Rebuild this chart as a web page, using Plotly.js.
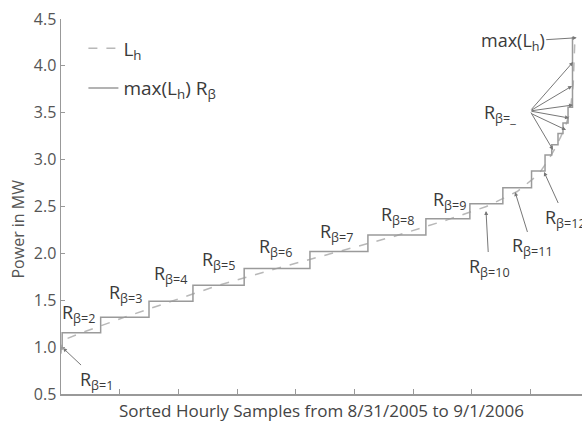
<!DOCTYPE html>
<html>
<head>
<meta charset="utf-8">
<script src="https://cdn.plot.ly/plotly-3.0.1.min.js"></script>
<style>html,body{margin:0;padding:0;background:#fff;}#chart{width:582px;height:424px;}</style>
</head>
<body>
<div id="chart"></div>
<script>
// Sorted load duration curve L_h (hour index, MW)
var loadHours = [0, 15, 60, 338, 1088, 1875, 2686, 3683, 4737, 5725, 6594, 7250, 7776, 8135, 8310, 8420, 8515, 8600, 8680, 8730, 8760];
var loadMW    = [0.93, 1.02, 1.08, 1.15, 1.32, 1.49, 1.66, 1.84, 2.02, 2.19, 2.36, 2.50, 2.66, 2.84, 3.00, 3.12, 3.24, 3.36, 3.52, 3.80, 4.30];

// Step function max(L_h) R_beta: start hour of each step and its level (MW)
var stepStartHours = [0, 20, 676, 1500, 2249, 3122, 4243, 5231, 6219, 6969, 7531, 8020, 8250, 8364, 8471, 8556, 8642, 8718];
var stepLevelsMW   = [0.98, 1.154, 1.318, 1.49, 1.66, 1.84, 2.02, 2.196, 2.37, 2.53, 2.70, 2.88, 3.05, 3.16, 3.28, 3.39, 3.56, 4.30];
var lastHour = 8760;

var yTicks = [0.5, 1.0, 1.5, 2.0, 2.5, 3.0, 3.5, 4.0, 4.5];
var yTickText = ['0.5', '1.0', '1.5', '2.0', '2.5', '3.0', '3.5', '4.0', '4.5'];

var stepX = stepStartHours.concat([lastHour]);
var stepY = stepLevelsMW.concat([stepLevelsMW[stepLevelsMW.length - 1]]);

var txtColor = '#3a3a3a';
var fnt = 'Open Sans, sans-serif';

var traces = [
  {x: loadHours, y: loadMW, mode: 'lines', name: 'L<sub>h</sub>', legendgroup: 'a',
   line: {color: '#b8b8b8', width: 1.5, dash: 'dash'}},
  {x: stepX, y: stepY, mode: 'lines', name: 'max(L<sub>h</sub>) R<sub>β</sub>', legendgroup: 'b',
   line: {color: '#9a9a9a', width: 1.5, shape: 'hv'}}
];

function lab(text, x, y) {
  return {text: text, x: x, y: y, xref: 'x', yref: 'y', showarrow: false,
          font: {family: fnt, size: 18, color: txtColor}};
}
function arr(text, x, y, ax, ay) {
  return {text: text, x: x, y: y, xref: 'x', yref: 'y', showarrow: true, ax: ax, ay: ay,
          arrowhead: 2, arrowsize: 0.8, arrowwidth: 1, arrowcolor: '#777',
          font: {family: fnt, size: 18, color: txtColor}};
}

var annotations = [
  arr('R<sub>β=1</sub>', 34, 0.99, 34, 32),
  lab('R<sub>β=2</sub>', 290, 1.364),
  lab('R<sub>β=3</sub>', 1091, 1.567),
  lab('R<sub>β=4</sub>', 1858, 1.78),
  lab('R<sub>β=5</sub>', 2676, 1.929),
  lab('R<sub>β=6</sub>', 3648, 2.068),
  lab('R<sub>β=7</sub>', 4704, 2.228),
  lab('R<sub>β=8</sub>', 5727, 2.409),
  lab('R<sub>β=9</sub>', 6614, 2.569),
  arr('R<sub>β=10</sub>', 7244, 2.452, 3, 56),
  arr('R<sub>β=11</sub>', 7739, 2.655, 17, 55),
  arr('R<sub>β=12</sub>', 8233, 2.868, 21, 46),
  arr('max(L<sub>h</sub>)', 8790, 4.30, -64, 4),
  lab('R<sub>β=_</sub>', 7483, 3.497),
  {text: 'Power in MW', xref: 'paper', yref: 'paper', x: -0.0825, y: 0.4387, textangle: -90,
   xanchor: 'center', yanchor: 'middle',
   showarrow: false, font: {family: fnt, size: 16, color: '#555'}}
];
// fan of arrows from a common point toward the upper steps
var fanTips = [[8727, 4.041], [8710, 3.785], [8727, 3.583], [8659, 3.444], [8608, 3.316], [8386, 3.103]];
var fanPx = [[573, 62], [572, 86], [573, 105], [569, 118], [566, 128], [553, 150]];
for (var i = 0; i < fanTips.length; i++) {
  annotations.push({text: '', x: fanTips[i][0], y: fanTips[i][1], xref: 'x', yref: 'y', showarrow: true,
    ax: 530 - fanPx[i][0], ay: 111 - fanPx[i][1], arrowhead: 2, arrowsize: 0.8, arrowwidth: 1, arrowcolor: '#777'});
}

var layout = {
  width: 582, height: 424,
  margin: {l: 61, r: 0, t: 19, b: 30},
  paper_bgcolor: '#fff', plot_bgcolor: '#fff',
  showlegend: true,
  legend: {x: 0.043, y: 0.972, xanchor: 'left', yanchor: 'top', bgcolor: 'rgba(0,0,0,0)',
           font: {family: fnt, size: 19, color: txtColor}, tracegroupgap: 12},
  xaxis: {range: [0, 8880], tickvals: [1000, 2000, 3000, 4000, 5000, 6000, 7000, 8000, 9000],
          showticklabels: false, ticks: 'inside', ticklen: 5, tickcolor: '#999', tickwidth: 1,
          showgrid: false, zeroline: false, showline: true, linecolor: '#999', linewidth: 1.5,
          title: {text: 'Sorted Hourly Samples from 8/31/2005 to 9/1/2006', standoff: 10,
                  font: {family: fnt, size: 17, color: '#444'}}},
  yaxis: {range: [0.5, 4.5], tickvals: yTicks, ticktext: yTickText,
          ticks: 'inside', ticklen: 4, tickcolor: '#999', tickwidth: 1,
          tickfont: {family: fnt, size: 16, color: '#555'},
          showgrid: false, zeroline: false, showline: true, linecolor: '#999', linewidth: 1.5},
  annotations: annotations
};

Plotly.newPlot('chart', traces, layout, {displayModeBar: false, staticPlot: true});
</script>
</body>
</html>
